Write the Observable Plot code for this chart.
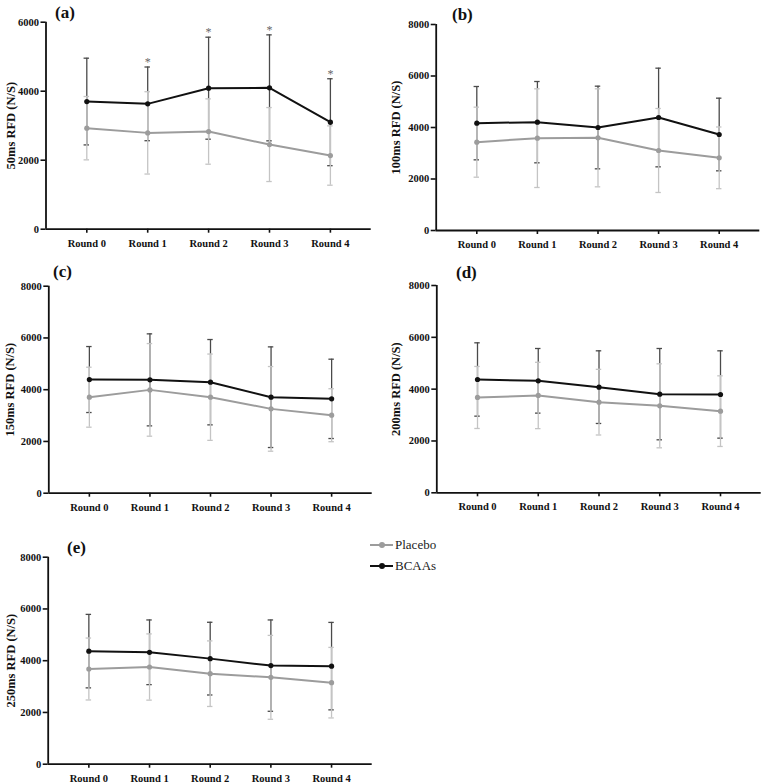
<!DOCTYPE html>
<html><head><meta charset="utf-8">
<script src="https://cdn.jsdelivr.net/npm/d3@7"></script>
<script src="https://cdn.jsdelivr.net/npm/@observablehq/plot@0.6"></script>
<style>
body{margin:0;background:#fff;}
#wrap{position:relative;width:767px;height:784px;font-family:"Liberation Serif","DejaVu Serif",serif;color:#111;overflow:hidden;}
.panel{position:absolute;}
.lab{position:absolute;font-weight:bold;font-size:17px;line-height:16px;white-space:nowrap;}
.leg{position:absolute;font-size:13px;line-height:14px;color:#222;white-space:nowrap;}
.leg .ln{position:absolute;left:0;top:6px;width:23px;height:2px;}
.leg .dt{position:absolute;left:9px;top:4px;width:6px;height:6px;border-radius:50%;}
.leg .tx{position:absolute;left:25px;top:0;}
</style></head>
<body><div id="wrap"></div>
<script>
const rounds = ["Round 0", "Round 1", "Round 2", "Round 3", "Round 4"];
const seriesNames = ["Placebo", "BCAAs"];

// (a) 50ms RFD
const a_placebo_mean = [2928, 2792, 2831, 2454, 2135];
const a_placebo_sd   = [918, 1193, 947, 1072, 860];
const a_bcaa_mean    = [3700, 3633, 4087, 4097, 3101];
const a_bcaa_sd      = [1257, 1068, 1478, 1536, 1260];
const a_stars        = [1, 2, 3, 4];
// (b) 100ms RFD
const b_placebo_mean = [3430, 3586, 3599, 3107, 2822];
const b_placebo_sd   = [1360, 1916, 1903, 1631, 1198];
const b_bcaa_mean    = [4168, 4207, 4000, 4388, 3728];
const b_bcaa_sd      = [1424, 1579, 1605, 1916, 1411];
// (c) 150ms RFD
const c_placebo_mean = [3710, 3993, 3710, 3259, 3014];
const c_placebo_sd   = [1159, 1790, 1668, 1636, 1024];
const c_bcaa_mean    = [4393, 4380, 4290, 3710, 3646];
const c_bcaa_sd      = [1275, 1778, 1649, 1945, 1533];
// (d) 200ms RFD
const d_placebo_mean = [3679, 3756, 3498, 3357, 3151];
const d_placebo_sd   = [1197, 1280, 1267, 1621, 1363];
const d_bcaa_mean    = [4373, 4322, 4077, 3807, 3794];
const d_bcaa_sd      = [1415, 1247, 1402, 1762, 1685];
// (e) 250ms RFD
const e_placebo_mean = [3679, 3756, 3498, 3357, 3151];
const e_placebo_sd   = [1197, 1280, 1267, 1621, 1363];
const e_bcaa_mean    = [4370, 4325, 4080, 3810, 3790];
const e_bcaa_sd      = [1420, 1250, 1405, 1765, 1690];

const ticks6000 = [0, 2000, 4000, 6000];
const ticks8000 = [0, 2000, 4000, 6000, 8000];

const FONT = "'Liberation Serif', 'DejaVu Serif', serif";
const wrap = document.getElementById("wrap");

function rows(means, sds) {
  return means.map((m, i) => ({i, mean: m, sd: sds[i]}));
}

function panel(cfg) {
  const P = rows(cfg.pm, cfg.ps);
  const B = rows(cfg.bm, cfg.bs);
  const cap = 0.045;
  const x0 = -0.67, x1 = 4.67;
  const errB = "#4a4a4a", errP = "#c4c4c4";
  const lineB = "#111", lineP = "#9c9c9c";
  const marks = [];
  for (const [R, c] of [[B, errB], [P, errP]]) {
    marks.push(Plot.ruleX(R, {x: "i", y1: d => d.mean - d.sd, y2: d => d.mean + d.sd, stroke: c, strokeWidth: 1.3}));
    marks.push(Plot.ruleY(R, {y: d => d.mean + d.sd, x1: d => d.i - cap, x2: d => d.i + cap, stroke: c, strokeWidth: 1.3}));
    marks.push(Plot.ruleY(R, {y: d => d.mean - d.sd, x1: d => d.i - cap, x2: d => d.i + cap, stroke: c, strokeWidth: 1.3}));
  }
  marks.push(Plot.line(P, {x: "i", y: "mean", stroke: lineP, strokeWidth: 2}));
  marks.push(Plot.dot(P, {x: "i", y: "mean", r: 2.6, fill: lineP}));
  marks.push(Plot.line(B, {x: "i", y: "mean", stroke: lineB, strokeWidth: 2}));
  marks.push(Plot.dot(B, {x: "i", y: "mean", r: 2.6, fill: lineB}));
  if (cfg.stars) {
    marks.push(Plot.text(cfg.stars.map(i => B[i]), {x: "i", y: d => d.mean + d.sd, text: () => "*", dy: -5, fill: "#666", fontSize: 12, fontWeight: "normal", fontFamily: FONT}));
  }
  marks.push(Plot.ruleY([0], {stroke: "#111", strokeWidth: 1.8}));
  marks.push(Plot.ruleX([x0], {y1: 0, y2: cfg.ymax, stroke: "#111", strokeWidth: 1.8}));
  marks.push(Plot.axisX({ticks: [0, 1, 2, 3, 4], tickFormat: i => rounds[i], tickSize: 4, tickPadding: 6, strokeWidth: 1.6, label: null, fontSize: 10.5, fontWeight: "bold", fontFamily: FONT}));
  marks.push(Plot.axisY({ticks: cfg.yticks, tickFormat: d => String(d), tickSize: 5, tickPadding: 2, strokeWidth: 1.6, label: null, fontSize: 10.5, fontWeight: "bold", fontFamily: FONT}));
  marks.push(Plot.text([cfg.ylabel], {text: d => d, frameAnchor: "left", textAnchor: "middle", lineAnchor: "middle", dx: cfg.ldx, rotate: -90, fontSize: 12.5, fontWeight: "bold", fill: "#111", fontFamily: FONT}));

  const svg = Plot.plot({
    width: cfg.W, height: cfg.H,
    marginLeft: cfg.mL, marginTop: cfg.mT, marginBottom: cfg.mB, marginRight: cfg.mR,
    x: {type: "linear", domain: [x0, x1], axis: null},
    y: {domain: [0, cfg.ymax], axis: null},
    style: {fontFamily: FONT, fontWeight: "bold", fontSize: "11px", color: "#111", background: "transparent", overflow: "visible"},
    marks
  });
  const div = document.createElement("div");
  div.className = "panel";
  div.style.left = cfg.L + "px";
  div.style.top = cfg.T + "px";
  div.appendChild(svg);
  wrap.appendChild(div);

  const lab = document.createElement("div");
  lab.className = "lab";
  lab.textContent = cfg.tag;
  lab.style.left = cfg.tx + "px";
  lab.style.top = (cfg.ty - 8) + "px";
  wrap.appendChild(lab);
}

panel({tag: "(a)", tx: 55, ty: 13, L: 0, T: 0, W: 384, H: 260, mL: 45.5, mT: 21.7, mB: 31.3, mR: 13.3,
  ymax: 6000, yticks: ticks6000, ylabel: "50ms RFD (N/S)", ldx: -35.5,
  pm: a_placebo_mean, ps: a_placebo_sd, bm: a_bcaa_mean, bs: a_bcaa_sd, stars: a_stars});
panel({tag: "(b)", tx: 452, ty: 15, L: 384, T: 0, W: 383, H: 260, mL: 51.7, mT: 24, mB: 30, mR: 7.7,
  ymax: 8000, yticks: ticks8000, ylabel: "100ms RFD (N/S)", ldx: -40.7,
  pm: b_placebo_mean, ps: b_placebo_sd, bm: b_bcaa_mean, bs: b_bcaa_sd});
panel({tag: "(c)", tx: 53, ty: 272, L: 0, T: 260, W: 384, H: 260, mL: 48.3, mT: 25.7, mB: 27.3, mR: 12.3,
  ymax: 8000, yticks: ticks8000, ylabel: "150ms RFD (N/S)", ldx: -38.5,
  pm: c_placebo_mean, ps: c_placebo_sd, bm: c_bcaa_mean, bs: c_bcaa_sd});
panel({tag: "(d)", tx: 456, ty: 273, L: 384, T: 260, W: 383, H: 260, mL: 52.3, mT: 25, mB: 27.7, mR: 6.3,
  ymax: 8000, yticks: ticks8000, ylabel: "200ms RFD (N/S)", ldx: -40.8,
  pm: d_placebo_mean, ps: d_placebo_sd, bm: d_bcaa_mean, bs: d_bcaa_sd});
panel({tag: "(e)", tx: 67, ty: 548, L: 0, T: 520, W: 384, H: 264, mL: 47.7, mT: 36.7, mB: 20.3, mR: 12.3,
  ymax: 8000, yticks: ticks8000, ylabel: "250ms RFD (N/S)", ldx: -37.7,
  pm: e_placebo_mean, ps: e_placebo_sd, bm: e_bcaa_mean, bs: e_bcaa_sd});

// legend
const legColors = ["#9c9c9c", "#111"];
const legY = [545, 566];
seriesNames.forEach((name, k) => {
  const g = document.createElement("div");
  g.className = "leg";
  g.style.left = "370px";
  g.style.top = (legY[k] - 7) + "px";
  g.innerHTML = `<span class="ln" style="background:${legColors[k]}"></span><span class="dt" style="background:${legColors[k]}"></span><span class="tx">${name}</span>`;
  wrap.appendChild(g);
});
</script>
</body></html>
